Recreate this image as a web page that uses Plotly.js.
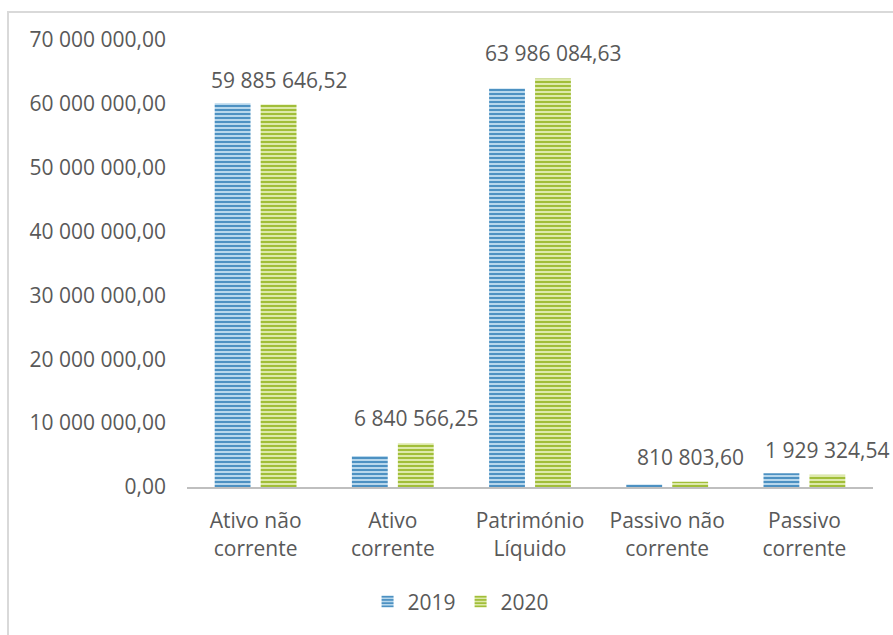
<!DOCTYPE html>
<html>
<head>
<meta charset="utf-8">
<script src="https://cdn.plot.ly/plotly-3.0.1.min.js"></script>
<style>
  html, body { margin: 0; padding: 0; background: #ffffff; }
  #wrap { position: relative; width: 893px; height: 635px; overflow: hidden; }
  #frame { position: absolute; left: 7px; top: 11px; width: 900px; height: 700px;
           border-left: 2px solid #d9d9d9; border-top: 2px solid #d9d9d9; pointer-events: none; }
  #chart { position: absolute; left: 0; top: 0; width: 893px; height: 635px; }
</style>
</head>
<body>
<div id="wrap">
  <div id="chart"></div>
  <div id="frame"></div>
</div>
<script>
const categories = ["Ativo não<br>corrente", "Ativo<br>corrente", "Património<br>Líquido", "Passivo não<br>corrente", "Passivo<br>corrente"];
const values2019 = [60100000, 4850000, 62400000, 400000, 2150000];
const values2020 = [59885646.52, 6840566.25, 63986084.63, 810803.60, 1929324.54];
const seriesNames = ["2019", "2020"];

const fontFamily = "'Open Sans', 'Liberation Sans', sans-serif";
const textColor = "#595959";
const fs = 21;

function fmt(v) {
  const parts = v.toFixed(2).split(".");
  const intPart = parts[0].replace(/\B(?=(\d{3})+(?!\d))/g, " ");
  return intPart + "," + parts[1];
}

const traces = [
  {
    type: "bar",
    name: seriesNames[0],
    x: categories,
    y: values2019,
    marker: {
      color: "#a9cde6",
      line: { width: 0 },
      pattern: { shape: "-", size: 4, solidity: 0.45, fgcolor: "#4189bd", bgcolor: "#b7d7ec" }
    },
    hoverinfo: "none"
  },
  {
    type: "bar",
    name: seriesNames[1],
    x: categories,
    y: values2020,
    marker: {
      color: "#d6e59c",
      line: { width: 0 },
      pattern: { shape: "-", size: 4, solidity: 0.45, fgcolor: "#9ab92c", bgcolor: "#dde9aa" }
    },
    hoverinfo: "none"
  }
];

const annotations = categories.map((c, i) => ({
  x: c,
  y: values2020[i],
  xref: "x",
  yref: "y",
  text: fmt(values2020[i]),
  showarrow: false,
  xanchor: "center",
  yanchor: "bottom",
  xshift: 23,
  yshift: 9,
  font: { family: fontFamily, size: fs, color: textColor }
}));

const layout = {
  width: 893,
  height: 635,
  margin: { l: 187, r: 20, t: 40, b: 148 },
  paper_bgcolor: "#ffffff",
  plot_bgcolor: "#ffffff",
  separators: ", ",
  barmode: "group",
  bargap: 0.33,
  bargroupgap: 0.22,
  font: { family: fontFamily, size: fs, color: textColor },
  annotations: annotations,
  xaxis: {
    type: "category",
    range: [-0.5, 4.5],
    autorange: false,
    showline: true,
    linecolor: "#bfbfbf",
    linewidth: 2,
    ticks: "",
    showgrid: false,
    ticklabelstandoff: 14,
    tickfont: { family: fontFamily, size: fs, color: textColor },
    fixedrange: true
  },
  yaxis: {
    range: [0, 70000000],
    dtick: 10000000,
    tickformat: ",.2f",
    showline: false,
    showgrid: false,
    zeroline: false,
    ticks: "",
    ticklabelstandoff: 20,
    tickfont: { family: fontFamily, size: fs, color: textColor },
    fixedrange: true
  },
  legend: {
    orientation: "h",
    x: 0.3995,
    xanchor: "center",
    y: -0.257,
    yanchor: "middle",
    font: { family: fontFamily, size: fs, color: textColor },
    itemwidth: 30,
    traceorder: "normal"
  },
  showlegend: true
};

Plotly.newPlot("chart", traces, layout, { displayModeBar: false, staticPlot: true });
</script>
</body>
</html>
